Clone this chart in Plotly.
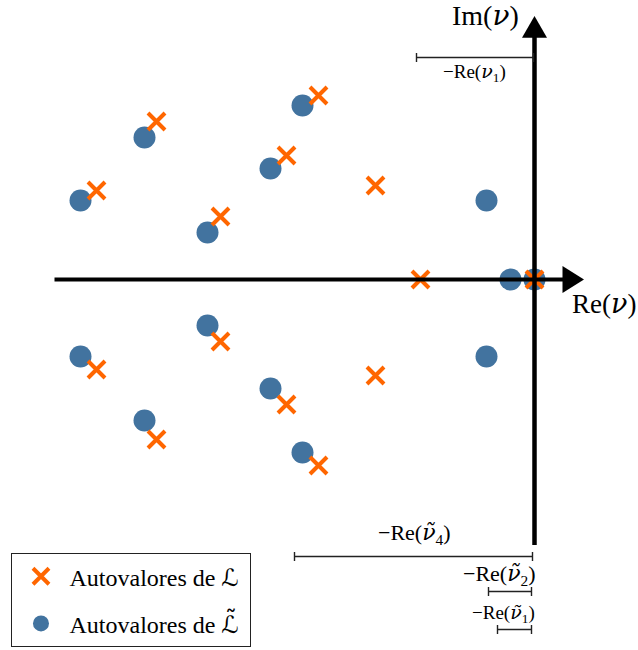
import plotly.graph_objects as go

# Eigenvalues of L (crosses): real and imaginary parts
cross_re = [-4.38, -3.78, -3.14, -2.48, -2.16, -1.59, -1.14, 0.0,
            -4.38, -3.78, -3.14, -2.48, -2.16, -1.59]
cross_im = [0.89, 1.58, 0.63, 1.24, 1.84, 0.94, 0.0, 0.0,
            -0.90, -1.60, -0.62, -1.25, -1.86, -0.96]

# Eigenvalues of L-tilde (circles)
circ_re = [-4.54, -3.90, -3.27, -2.64, -2.32, -0.48, -0.24, 0.0,
           -4.54, -3.90, -3.27, -2.64, -2.32, -0.48]
circ_im = [0.79, 1.42, 0.47, 1.11, 1.74, 0.79, 0.0, 0.0,
           -0.77, -1.41, -0.46, -1.09, -1.73, -0.77]

NU = "<span style=\"font-family:'DejaVu Serif';font-style:italic\">ν</span>"
NUT = "<span style=\"font-family:'DejaVu Serif';font-style:italic\">ν̃</span>"
CALL = "<span style=\"font-family:'DejaVu Sans'\">ℒ</span>"
CALLT = "<span style=\"font-family:'DejaVu Sans'\">ℒ̃</span>"

# dimension brackets: label, start (Re), end (Re), level (Im)
dim_labels = ["−Re(" + NU + "<sub>1</sub>)", "−Re(" + NUT + "<sub>4</sub>)",
              "−Re(" + NUT + "<sub>2</sub>)", "−Re(" + NUT + "<sub>1</sub>)"]
dim_start = [-1.18, -2.40, -0.46, -0.37]
dim_end = [-0.01, -0.02, -0.03, -0.03]
dim_level = [2.22, -2.77, -3.12, -3.50]

FONT = "Liberation Serif, DejaVu Serif, serif"
BLUE = "#42739f"
ORANGE = "#ff6600"

fig = go.Figure()
fig.add_trace(go.Scatter(
    x=circ_re, y=circ_im, mode="markers",
    name="Autovalores de " + CALLT + "\u00a0",
    marker=dict(symbol="circle", size=22, color=BLUE, line=dict(width=0)),
    legendgroup="b", legendrank=2, hoverinfo="skip"))
fig.add_trace(go.Scatter(
    x=cross_re, y=cross_im, mode="markers",
    name="Autovalores de " + CALL,
    marker=dict(symbol="x-thin", size=17, color=ORANGE,
                line=dict(width=4, color=ORANGE)),
    legendgroup="a", legendrank=1, hoverinfo="skip"))

shapes = []
# axes
shapes.append(dict(type="line", xref="x", yref="y", x0=-4.80, x1=0.29, y0=0, y1=0,
                   line=dict(color="black", width=4)))
shapes.append(dict(type="path", xref="x", yref="y",
                   path="M 0.28 0.135 L 0.495 0 L 0.28 -0.135 Z",
                   fillcolor="black", line=dict(width=0)))
shapes.append(dict(type="line", xref="x", yref="y", x0=0, x1=0, y0=-2.655, y1=2.43,
                   line=dict(color="black", width=4.5)))
shapes.append(dict(type="path", xref="x", yref="y",
                   path="M -0.125 2.418 L 0 2.635 L 0.125 2.418 Z",
                   fillcolor="black", line=dict(width=0)))

annotations = [
    dict(x=-0.49, y=2.64, xref="x", yref="y", text="Im(" + NU + ")", showarrow=False,
         font=dict(family=FONT, size=28, color="black")),
    dict(x=0.695, y=-0.24, xref="x", yref="y", text="Re(" + NU + ")", showarrow=False,
         font=dict(family=FONT, size=27, color="black")),
]

label_pos = [(-0.60, 2.07, 19), (-1.205, -2.545, 22), (-0.35, -2.955, 22), (-0.31, -3.34, 19)]
for lab, s, e, lv, (lx, ly, fs) in zip(dim_labels, dim_start, dim_end, dim_level, label_pos):
    shapes.append(dict(type="line", xref="x", yref="y", x0=s, x1=e, y0=lv, y1=lv,
                       line=dict(color="#222", width=1.4)))
    for xx in (s, e):
        shapes.append(dict(type="line", xref="x", yref="y", x0=xx, x1=xx,
                           y0=lv - 0.045, y1=lv + 0.045,
                           line=dict(color="#222", width=1.4)))
    annotations.append(dict(x=lx, y=ly, xref="x", yref="y", text=lab, showarrow=False,
                            font=dict(family=FONT, size=fs, color="black")))

fig.update_layout(
    width=638, height=650, autosize=False,
    margin=dict(l=0, r=0, t=0, b=0),
    paper_bgcolor="white", plot_bgcolor="white",
    xaxis=dict(visible=False, range=[-5.345, 1.035], fixedrange=True),
    yaxis=dict(visible=False, range=[-3.705, 2.795], fixedrange=True),
    shapes=shapes, annotations=annotations,
    showlegend=True,
    legend=dict(x=0.018, y=0.149, xanchor="left", yanchor="top",
                bordercolor="#222", borderwidth=1, bgcolor="white",
                font=dict(family=FONT, size=24, color="black"),
                tracegroupgap=13, itemsizing="trace", itemwidth=47),
)

fig.write_html("out.html")
